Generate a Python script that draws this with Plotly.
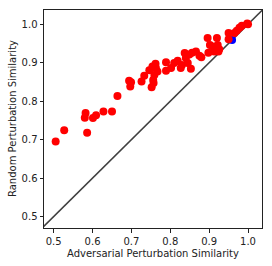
import plotly.graph_objects as go

adv_red = [0.505, 0.527, 0.586, 0.582, 0.580, 0.601, 0.609, 0.628, 0.650, 0.664,
           0.694, 0.697, 0.699, 0.726, 0.733, 0.746, 0.752, 0.756, 0.757, 0.759,
           0.762, 0.763, 0.767, 0.754, 0.789, 0.789, 0.802, 0.810, 0.819, 0.827,
           0.830, 0.837, 0.840, 0.845, 0.849, 0.853, 0.856, 0.866, 0.875, 0.880,
           0.896, 0.898, 0.902, 0.909, 0.913, 0.920, 0.922, 0.926, 0.924, 0.950,
           0.950, 0.965, 0.971, 0.978, 0.984, 0.998, 1.000]
rand_red = [0.695, 0.724, 0.718, 0.769, 0.757, 0.756, 0.763, 0.773, 0.773, 0.813,
            0.853, 0.838, 0.849, 0.851, 0.866, 0.880, 0.836, 0.855, 0.847, 0.868,
            0.897, 0.886, 0.877, 0.890, 0.901, 0.879, 0.886, 0.899, 0.905, 0.886,
            0.894, 0.925, 0.912, 0.899, 0.921, 0.884, 0.926, 0.929, 0.918, 0.914,
            0.964, 0.926, 0.946, 0.942, 0.929, 0.964, 0.946, 0.935, 0.929, 0.977,
            0.961, 0.977, 0.983, 0.991, 0.996, 1.002, 1.000]
adv_blue = [0.959]
rand_blue = [0.959]

x_range = [0.475, 1.036]
y_range = [0.47, 1.037]
tick_vals = [0.5, 0.6, 0.7, 0.8, 0.9, 1.0]
tick_text = ["0.5", "0.6", "0.7", "0.8", "0.9", "1.0"]
diag = [0.4, 1.1]
x_title = "Adversarial Perturbation Similarity"
y_title = "Random Perturbation Similarity"

font = dict(family="DejaVu Sans", size=10, color="#222")

fig = go.Figure()
fig.add_trace(go.Scatter(x=diag, y=diag, mode="lines",
                         line=dict(color="#404040", width=1.5), hoverinfo="skip"))
fig.add_trace(go.Scatter(x=adv_blue, y=rand_blue, mode="markers",
                         marker=dict(color="blue", size=8, line=dict(width=0))))
fig.add_trace(go.Scatter(x=adv_red, y=rand_red, mode="markers",
                         marker=dict(color="red", size=8, line=dict(width=0))))

axis_common = dict(showgrid=False, zeroline=False, showline=True, linecolor="#222",
                   linewidth=1, mirror=True, ticks="outside", ticklen=3.5,
                   tickwidth=1, tickcolor="#222", tickvals=tick_vals, ticktext=tick_text,
                   tickfont=font, automargin=False)
fig.update_layout(
    width=272, height=266, showlegend=False,
    margin=dict(l=44, r=10, t=10, b=38, autoexpand=False),
    paper_bgcolor="white", plot_bgcolor="white",
    xaxis=dict(range=x_range, **axis_common),
    yaxis=dict(range=y_range, **axis_common),
    annotations=[
        dict(text=x_title, xref="paper", yref="paper", x=0.5, y=0, xanchor="center",
             yanchor="middle", yshift=-25, showarrow=False, font=font),
        dict(text=y_title, xref="paper", yref="paper", x=0, y=0.5, xanchor="center",
             yanchor="middle", xshift=-32, textangle=-90, showarrow=False, font=font),
    ],
)
fig.write_html("out.html", config={"displayModeBar": False},
               post_script="document.body.style.margin='0';document.body.style.overflow='hidden';")
